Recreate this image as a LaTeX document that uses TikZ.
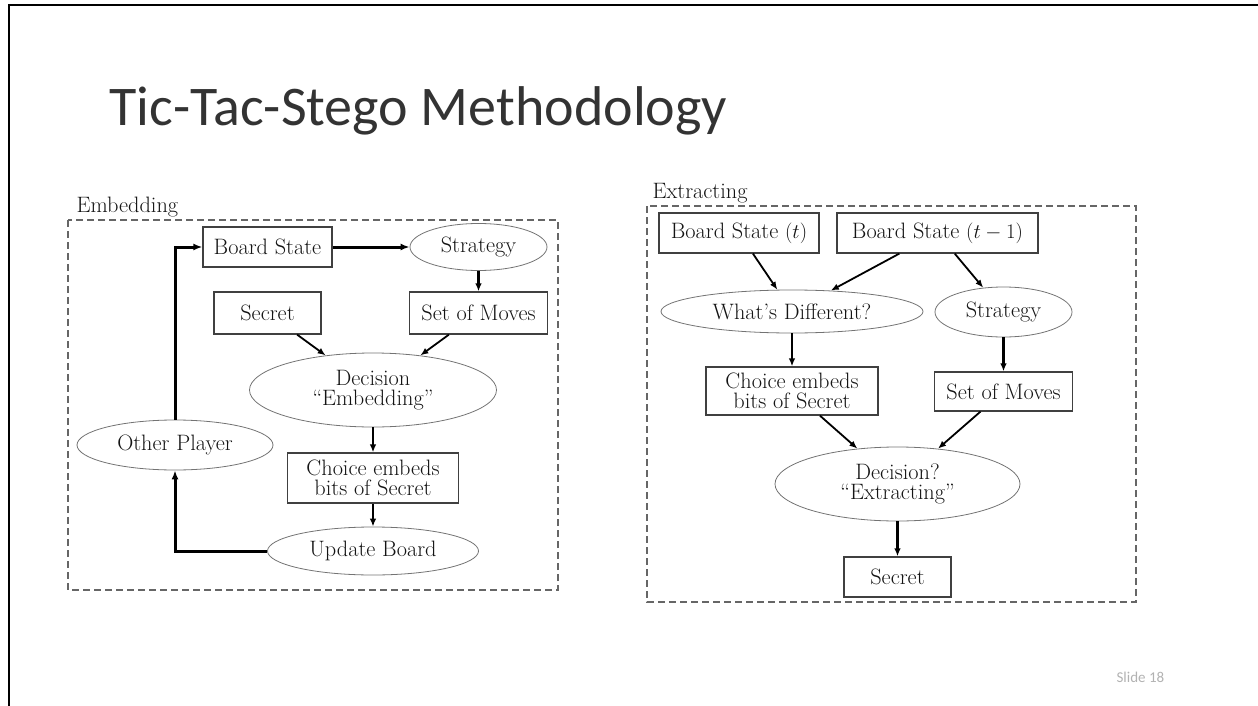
\documentclass[tikz,border=0pt]{standalone}
\usepackage{fontspec}
\newfontfamily\titlefont{Carlito}
\usetikzlibrary{shapes.geometric,arrows.meta}
\newcommand\diagfont{\fontsize{22.3}{20.5}\selectfont}
\begin{document}
\begin{tikzpicture}[x=1pt,y=-1pt,
  every node/.style={text=black!92, font=\diagfont},
  box/.style={draw=black!75, line width=1.2pt, rectangle, inner sep=0pt, align=center},
  oval/.style={draw=black!55, line width=0.8pt, ellipse, inner sep=0pt, align=center},
  frame/.style={draw=black!60, line width=1.1pt, dash pattern=on 7pt off 4pt},
  conn/.style={line width=1.8pt, -{Latex[length=8pt,width=6.5pt]}},
  mid/.style={line width=2.3pt, -{Latex[length=8pt,width=6.5pt]}},
  heavy/.style={line width=3pt, -{Latex[length=9pt,width=7pt]}},
]
\useasboundingbox (0,0) rectangle (1258,706);

% slide border and headings
\draw[line width=2pt, line join=miter] (9,706) -- (9,5) -- (1258,5);
\node[anchor=base west, font=\titlefont\fontsize{56}{60}\selectfont, text=black!80]
  (title) at (106,125) {Tic-Tac-Stego Methodology};
\node[anchor=base west, font=\titlefont\fontsize{15}{18}\selectfont, text=black!30]
  (slidenum) at (1113,682) {Slide 18};

% ---------------- Embedding ----------------
\draw[frame] (68,220) rectangle (558,590);
\node[anchor=base west] (elabel) at (73,212) {Embedding};

\node[box,  minimum width=129pt, minimum height=40pt] (eb)   at (267.5,247) {Board State};
\node[oval, minimum width=137pt, minimum height=47pt] (es)   at (478.5,247) {Strategy};
\node[box,  minimum width=107pt, minimum height=42pt] (esec) at (267.5,313) {Secret};
\node[box,  minimum width=138pt, minimum height=42pt] (em)   at (478.5,313) {Set of Moves};
\node[oval, minimum width=247pt, minimum height=74pt] (ed)   at (373,390) {Decision\\``Embedding''};
\node[oval, minimum width=196pt, minimum height=50pt] (eo)   at (175,445) {Other Player};
\node[box,  minimum width=171pt, minimum height=50pt] (ec)   at (373,478) {Choice embeds\\bits of Secret};
\node[oval, minimum width=211pt, minimum height=48pt] (eu)   at (373,551) {Update Board};

\draw[heavy] (eb.east) -- (es.west);
\draw[mid] (es.south) -- (em.north);
\draw[conn] (esec) -- (ed);
\draw[conn] (em) -- (ed);
\draw[mid] (ed.south) -- (ec.north);
\draw[mid] (ec.south) -- (eu.north);
\draw[heavy] (eu.west) -| (eo.south);
\draw[heavy] (eo.north) |- (eb.west);

% ---------------- Extracting ----------------
\draw[frame] (647,206) rectangle (1136,602);
\node[anchor=base west] (xlabel) at (649,198) {Extracting};

\node[box,  minimum width=160pt, minimum height=40pt] (xt)   at (739,233) {Board State $(t)$};
\node[box,  minimum width=201pt, minimum height=40pt] (xp)   at (937.5,233) {Board State $(t-1)$};
\node[oval, minimum width=262pt, minimum height=43pt] (xw)   at (792,311.5) {What's Different?};
\node[oval, minimum width=137pt, minimum height=50pt] (xs)   at (1003.5,312) {Strategy};
\node[box,  minimum width=172pt, minimum height=48pt] (xc)   at (792,391) {Choice embeds\\bits of Secret};
\node[box,  minimum width=138pt, minimum height=39pt] (xm)   at (1003.5,391.5) {Set of Moves};
\node[oval, minimum width=245pt, minimum height=74pt] (xd)   at (897.5,484) {Decision?\\``Extracting''};
\node[box,  minimum width=107pt, minimum height=40pt] (xsec) at (897.5,577) {Secret};

\draw[conn] (xt) -- (xw);
\draw[conn] (xp) -- (xw);
\draw[conn] (xp) -- (xs);
\draw[mid] (xw.south) -- (xc.north);
\draw[mid] (xs.south) -- (xm.north);
\draw[conn] (xc) -- (xd);
\draw[conn] (xm) -- (xd);
\draw[mid] (xd.south) -- (xsec.north);
\end{tikzpicture}
\end{document}
